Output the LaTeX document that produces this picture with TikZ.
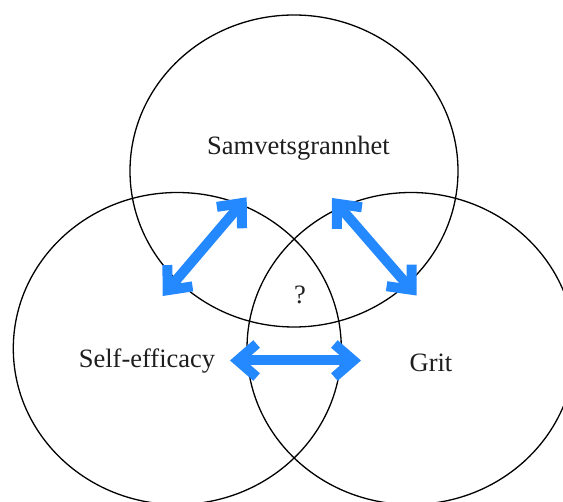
\documentclass[tikz,border=0pt]{standalone}
\usepackage{fontspec}
\setmainfont{Liberation Serif}
\usetikzlibrary{arrows.meta,shapes.geometric}
\definecolor{arrowblue}{RGB}{36,136,255}
\definecolor{txtgray}{RGB}{30,30,30}
\begin{document}
\begin{tikzpicture}[x=1pt,y=-1pt,
  venn/.style={ellipse, draw=black, line width=1.3pt, minimum width=328pt, minimum height=312pt, inner sep=0pt},
  lbl/.style={inner sep=0pt, anchor=base, text=txtgray, font=\fontsize{26.5}{30}\selectfont},
  bluearrow/.style={draw=arrowblue, line width=10pt,
    {Straight Barb[length=19pt,width=33pt]}-{Straight Barb[length=19pt,width=33pt]}}]
\useasboundingbox (0,0) rectangle (563,502);
\clip (0,0) rectangle (563,502);
\node[venn] (top) at (294,171) {};
\node[venn] (left) at (177.3,348.5) {};
\node[venn] (right) at (411,348.5) {};
\node[lbl] (sam) at (298.5,155) {Samvetsgrannhet};
\node[lbl] (self) at (147,368) {Self-efficacy};
\node[lbl] (grit) at (431,372) {Grit};
\node[lbl] (q) at (300,304) {?};
\coordinate (a1) at (246.7,197.3);
\coordinate (a2) at (162.7,296);
\coordinate (b1) at (332,198);
\coordinate (b2) at (416.5,295.5);
\coordinate (c1) at (230,360.5);
\coordinate (c2) at (361,360.5);
\draw[bluearrow] (a1) -- (a2);
\draw[bluearrow] (b1) -- (b2);
\draw[bluearrow] (c1) -- (c2);
\end{tikzpicture}
\end{document}
